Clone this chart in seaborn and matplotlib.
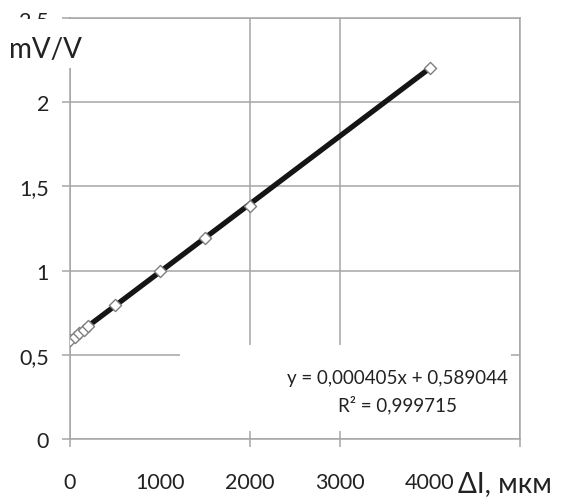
import numpy as np
import pandas as pd
import matplotlib
matplotlib.use('Agg')
import matplotlib.pyplot as plt
from matplotlib.patches import Rectangle
import seaborn as sns

# elongation, um  vs  bridge output, mV/V
dl_um = [0, 50, 100, 150, 200, 500, 1000, 1500, 2000, 4000]
signal_mv_v = [0.585, 0.607, 0.628, 0.650, 0.672, 0.797, 1.000, 1.196, 1.385, 2.205]

x_ticks = [0, 1000, 2000, 3000, 4000, 5000]
x_labels = ['0', '1000', '2000', '3000', '4000', '']  # 5000 sits under the axis title
y_ticks = [0, 0.5, 1, 1.5, 2, 2.5]
y_labels = ['0', '0,5', '1', '1,5', '2', '2,5']
eq_text = 'y = 0,000405x + 0,589044\nR² = 0,999715'

df = pd.DataFrame({'dl': dl_um, 'u': signal_mv_v})

sns.set_style('white')
plt.rcParams['font.family'] = ['Lato', 'DejaVu Sans']

W, H = 566, 502
fig = plt.figure(figsize=(W / 100, H / 100), dpi=100)
ax = fig.add_axes([70 / W, 62 / H, 450 / W, 421 / H])

grey = '#a6a6a6'
ink = '#222222'

# trend line then the measured points on top
sns.regplot(x='dl', y='u', data=df, scatter=False, ci=None, truncate=True,
            line_kws=dict(color='#151515', linewidth=3.8, zorder=3), ax=ax)
sns.scatterplot(x='dl', y='u', data=df, marker='D', s=38, color='white',
                edgecolor='#7f7f7f', linewidth=1.0, zorder=4, ax=ax)

ax.set_xlim(0, 5000)
ax.set_ylim(0, 2.5)
ax.set_xticks(x_ticks)
ax.set_xticklabels(x_labels)
ax.set_yticks(y_ticks)
ax.set_yticklabels(y_labels)
ax.set_xlabel('')
ax.set_ylabel('')

ax.grid(True, color=grey, linewidth=1.1)
ax.set_axisbelow(True)
for s in ax.spines.values():
    s.set_color(grey)
    s.set_linewidth(1.1)

ax.tick_params(axis='both', direction='out', length=6, width=1.1, color=grey,
               labelsize=15.5, labelcolor=ink, bottom=True, left=True)
ax.tick_params(axis='x', pad=18)
ax.tick_params(axis='y', pad=9)

# no grid or tick at 1000 and 4000 in the original
for i in (1, 4):
    t = ax.xaxis.get_major_ticks()[i]
    t.gridline.set_visible(False)
    t.tick1line.set_visible(False)

# white box behind the trendline equation
fig.add_artist(Rectangle((180 / W, 1 - 432 / H), (511 - 180) / W, (432 - 346) / H,
                         transform=fig.transFigure, facecolor='white',
                         edgecolor='none', zorder=5))
fig.text(397 / W, 1 - 392 / H, eq_text, ha='center', va='center',
         multialignment='center', fontsize=13.5, color=ink,
         linespacing=1.55, zorder=6)

# axis titles; white boxes hide the ends of the axes as in the original
fig.add_artist(Rectangle((0, 1 - 69 / H), 88 / W, (69 - 20) / H,
                         transform=fig.transFigure, facecolor='white',
                         edgecolor='none', zorder=5))
fig.text(45 / W, 1 - 50 / H, 'mV/V', ha='center', va='center', fontsize=20,
         color=ink, zorder=6)
fig.text(458 / W, 1 - 484 / H, 'ΔI, мкм', ha='left', va='center',
         fontsize=20, color=ink, zorder=6,
         bbox=dict(facecolor='white', edgecolor='none', pad=3.5))

fig.savefig('out.png', dpi=100)
